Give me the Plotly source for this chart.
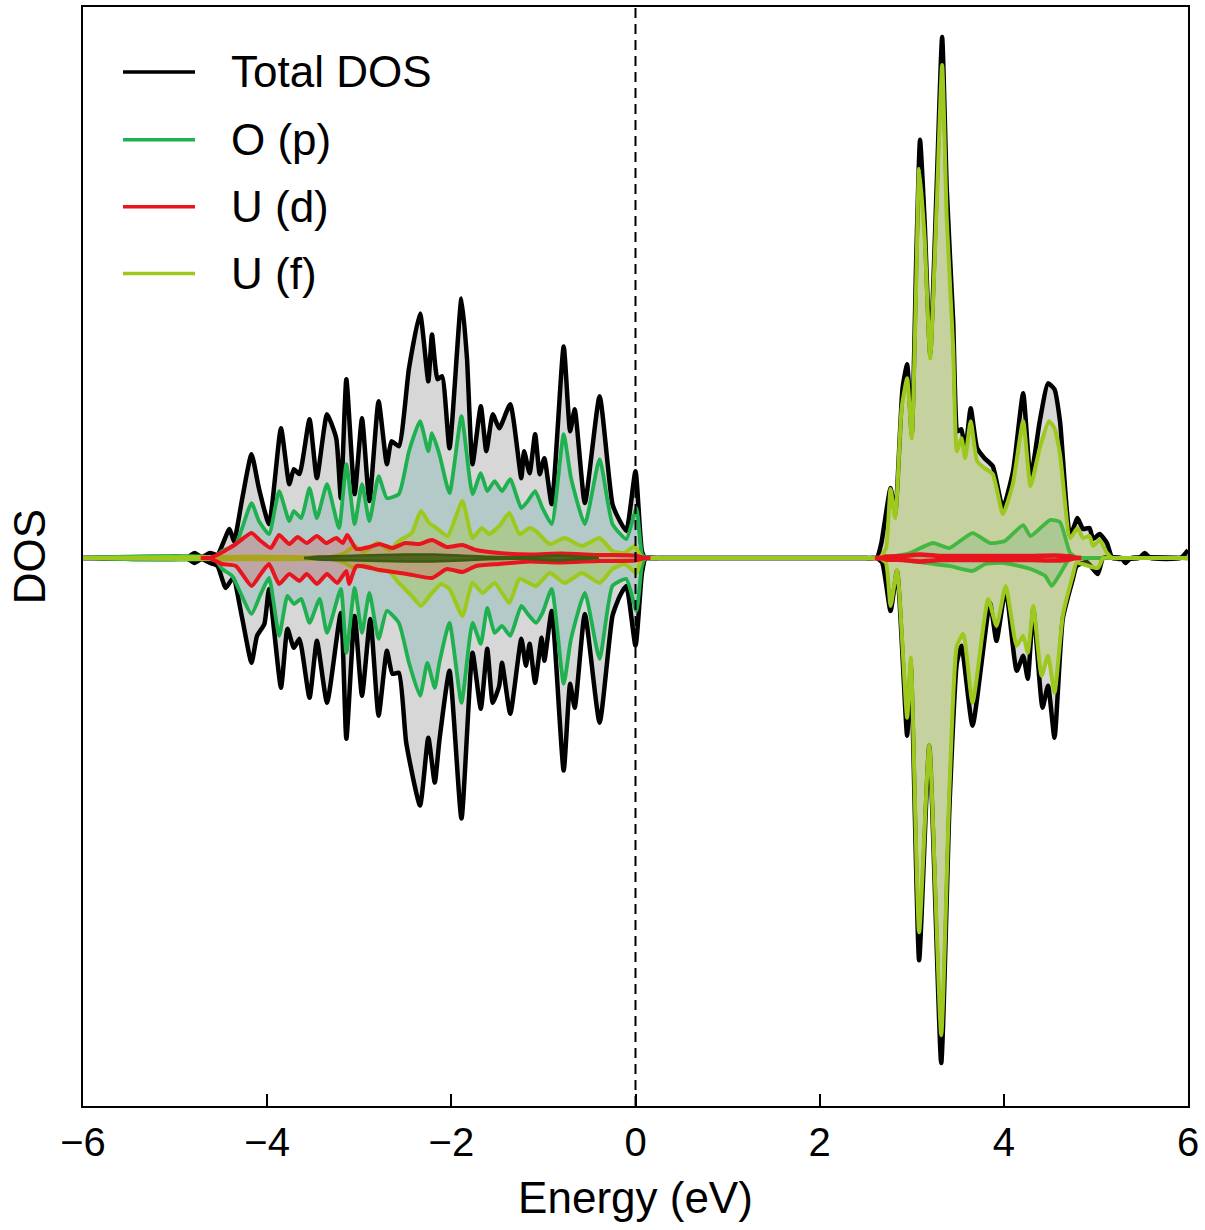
import plotly.graph_objects as go

# ---------------- data (energy in eV, DOS in arbitrary units) ----------------
E_TOT_UP = [-6.0, -4.88, -4.79, -4.71, -4.62, -4.54, -4.41, -4.36, -4.27, -4.17,
            -4.09, -3.98, -3.85, -3.76, -3.71, -3.65, -3.54, -3.46, -3.35, -3.25,
            -3.20, -3.14, -3.05, -2.97, -2.89, -2.79, -2.70, -2.65, -2.57, -2.46,
            -2.34, -2.25, -2.21, -2.15, -2.10, -2.02, -1.89, -1.83, -1.77, -1.68,
            -1.62, -1.55, -1.48, -1.36, -1.24, -1.21, -1.15, -1.09, -1.04, -0.99,
            -0.91, -0.78, -0.71, -0.66, -0.55, -0.39, -0.25, -0.17, -0.10, 0.0,
            0.07, 0.11, 0.25,
            2.50, 2.62, 2.67, 2.77, 2.82, 2.90, 2.95, 3.00, 3.05, 3.09, 3.14,
            3.20, 3.27, 3.33, 3.38, 3.45, 3.50, 3.54, 3.58, 3.64, 3.71,
            3.79, 3.88, 3.99, 4.10, 4.21, 4.29, 4.39, 4.48, 4.55, 4.61,
            4.72, 4.80, 4.86, 4.93, 4.97, 5.04, 5.12, 5.18, 5.47, 5.53,
            5.59, 5.92, 6.0]
TOT_UP = [0, 0, 0.05, 0.01, 0.05, 0.03, 0.29, 0.17, 0.60, 1.04,
          0.70, 0.34, 1.30, 0.74, 0.89, 0.84, 1.39, 0.80, 1.44, 1.20,
          0.60, 1.79, 0.64, 1.40, 0.57, 1.57, 0.94, 1.17, 1.12, 1.90,
          2.45, 1.77, 2.24, 1.79, 1.82, 1.10, 2.60, 2.00, 0.94, 1.52,
          1.07, 1.44, 1.30, 1.54, 0.80, 1.07, 0.85, 1.24, 0.84, 1.00,
          0.54, 2.12, 1.27, 1.49, 0.55, 1.62, 0.54, 0.37, 0.27, 0.87,
          0.07, 0, 0,
          0, 0, 0.15, 0.70, 0.44, 1.70, 1.94, 1.24, 3.04, 4.19, 3.37,
          2.04, 3.70, 5.22, 3.70, 2.37, 1.27, 1.29, 1.07, 1.50, 1.10,
          1.00, 0.92, 0.50, 0.87, 1.65, 0.80, 1.37, 1.75, 1.69, 1.37,
          0.22, 0.40, 0.29, 0.30, 0.19, 0.24, 0.15, 0, 0, 0.05,
          0, 0, 0.08]

E_TOT_DN = [-6.0, -4.88, -4.79, -4.71, -4.62, -4.54, -4.45, -4.37, -4.27, -4.17,
            -4.11, -4.03, -3.98, -3.85, -3.78, -3.71, -3.65, -3.54, -3.46, -3.35,
            -3.20, -3.14, -3.05, -2.97, -2.88, -2.79, -2.70, -2.64, -2.57, -2.49,
            -2.34, -2.25, -2.18, -2.13, -2.02, -1.89, -1.77, -1.68, -1.61, -1.55,
            -1.48, -1.45, -1.36, -1.24, -1.19, -1.15, -1.09, -1.02, -0.99, -0.91,
            -0.78, -0.71, -0.66, -0.55, -0.39, -0.25, -0.17, -0.10, 0.0, 0.07,
            0.11, 0.25,
            2.50, 2.62, 2.68, 2.77, 2.84, 2.95, 2.99, 3.08, 3.19, 3.32, 3.41,
            3.49, 3.54, 3.66, 3.85, 3.92, 4.02, 4.14, 4.21, 4.26, 4.32,
            4.42, 4.48, 4.55, 4.64, 4.75, 4.79, 4.90, 5.02, 5.08, 5.28,
            5.32, 5.38, 6.0]
TOT_DN = [0, 0, -0.05, -0.01, -0.05, -0.08, -0.30, -0.20, -0.61, -1.05,
          -0.78, -0.66, -0.31, -1.30, -0.71, -0.90, -0.81, -1.40, -0.83, -1.45,
          -0.55, -1.81, -0.58, -1.38, -0.61, -1.58, -0.93, -1.16, -1.15, -1.85,
          -2.48, -1.80, -2.25, -1.83, -1.13, -2.61, -0.95, -1.51, -0.91, -1.45,
          -1.28, -1.05, -1.56, -0.81, -1.08, -0.86, -1.25, -0.80, -1.03, -0.53,
          -2.13, -1.26, -1.50, -0.56, -1.65, -0.58, -0.38, -0.28, -0.88, -0.15,
          0, 0,
          0, 0, -0.05, -0.53, -0.13, -1.78, -1.08, -4.03, -1.88, -5.06, -2.48,
          -1.05, -0.88, -1.68, -0.45, -0.83, -0.31, -1.13, -0.98, -1.21, -0.51,
          -1.50, -1.28, -1.80, -0.61, -0.21, -0.08, -0.04, -0.16, 0, 0,
          -0.05, 0, 0]

E_OP_UP = [-6.0, -4.58, -4.49, -4.34, -4.17, -4.09, -3.98, -3.87, -3.76, -3.71,
           -3.63, -3.54, -3.46, -3.35, -3.22, -3.14, -3.05, -2.97, -2.89, -2.79,
           -2.70, -2.57, -2.46, -2.34, -2.25, -2.21, -2.13, -2.02, -1.89, -1.77,
           -1.68, -1.61, -1.53, -1.45, -1.36, -1.24, -1.17, -1.09, -1.01, -0.91,
           -0.78, -0.70, -0.55, -0.39, -0.25, -0.10, 0.01, 0.07, 0.11, 0.25,
           2.55, 2.70, 2.82, 2.98, 3.23, 3.41, 3.66, 3.85, 4.01, 4.21, 4.29,
           4.50, 4.61, 4.72, 4.80, 4.95, 6.0]
OP_UP = [0, 0, 0.07, 0.14, 0.55, 0.37, 0.24, 0.67, 0.37, 0.47,
         0.40, 0.70, 0.40, 0.74, 0.30, 0.94, 0.34, 0.74, 0.37, 0.82,
         0.60, 0.64, 1.07, 1.37, 1.07, 1.25, 1.04, 0.65, 1.42, 0.64,
         0.85, 0.67, 0.77, 0.67, 0.79, 0.50, 0.57, 0.67, 0.50, 0.34,
         1.24, 0.80, 0.34, 0.99, 0.34, 0.19, 0.50, 0.04, 0, 0,
         0, 0, 0.02, 0.05, 0.15, 0.10, 0.25, 0.15, 0.17, 0.33, 0.22,
         0.38, 0.36, 0.05, 0, 0, 0]

E_OP_DN = [-6.0, -4.58, -4.49, -4.38, -4.17, -4.07, -3.98, -3.87, -3.78, -3.71,
           -3.63, -3.54, -3.43, -3.35, -3.20, -3.14, -3.05, -2.97, -2.89, -2.79,
           -2.70, -2.57, -2.46, -2.34, -2.26, -2.18, -2.13, -2.02, -1.89, -1.77,
           -1.68, -1.61, -1.53, -1.45, -1.36, -1.24, -1.17, -1.08, -1.01, -0.91,
           -0.78, -0.70, -0.55, -0.39, -0.25, -0.10, 0.01, 0.07, 0.11, 0.25,
           2.55, 2.70, 2.98, 3.23, 3.41, 3.66, 3.80, 4.00, 4.29, 4.45, 4.52,
           4.61, 4.72, 4.85, 6.0]
OP_DN = [0, 0, -0.11, -0.18, -0.56, -0.36, -0.20, -0.78, -0.38, -0.46,
         -0.41, -0.65, -0.41, -0.75, -0.31, -0.95, -0.30, -0.75, -0.35, -0.81,
         -0.53, -0.65, -1.05, -1.38, -1.05, -1.30, -1.05, -0.65, -1.45, -0.65,
         -0.86, -0.50, -0.75, -0.68, -0.78, -0.48, -0.56, -0.65, -0.55, -0.31,
         -1.26, -0.81, -0.35, -1.01, -0.28, -0.21, -0.53, -0.08, 0, 0,
         0, 0, -0.03, -0.06, -0.08, -0.13, -0.06, -0.05, -0.11, -0.18, -0.28,
         -0.16, 0, 0, 0]

# U (d): valence-band part and conduction-band part
E_UD_UP_V = [-4.72, -4.63, -4.52, -4.41, -4.34, -4.17, -4.07, -3.96, -3.87, -3.76,
             -3.67, -3.57, -3.46, -3.36, -3.25, -3.18, -3.13, -3.03, -2.89, -2.78,
             -2.64, -2.50, -2.35, -2.21, -2.05, -1.88, -1.73, -1.48, -1.15, -0.80,
             -0.39, 0.0, 0.10, 0.16]
UD_UP_V = [0, 0, 0.04, 0.10, 0.14, 0.25, 0.17, 0.10, 0.23, 0.14,
           0.21, 0.15, 0.22, 0.15, 0.20, 0.15, 0.23, 0.09, 0.11, 0.14,
           0.10, 0.15, 0.14, 0.18, 0.11, 0.13, 0.08, 0.05, 0.035, 0.045,
           0.03, 0.025, 0, 0]
E_UD_DN_V = [-4.72, -4.63, -4.49, -4.34, -4.17, -4.07, -3.98, -3.87, -3.76, -3.65,
             -3.57, -3.46, -3.35, -3.24, -3.14, -3.11, -3.03, -2.78, -2.48, -2.21,
             -2.05, -1.88, -1.73, -1.48, -1.15, -0.83, -0.39, 0.0, 0.10, 0.16]
UD_DN_V = [0, 0, -0.06, -0.08, -0.28, -0.16, -0.06, -0.26, -0.16, -0.23,
           -0.16, -0.26, -0.16, -0.25, -0.13, -0.26, -0.08, -0.12, -0.16, -0.20,
           -0.11, -0.14, -0.08, -0.06, -0.035, -0.045, -0.03, -0.025, 0, 0]
E_UD_UP_C = [2.60, 2.66, 2.72, 2.90, 3.09, 3.30, 3.60, 4.00, 4.30, 4.55, 4.72, 4.78, 4.84]
UD_UP_C = [0, 0, 0.015, 0.02, 0.035, 0.02, 0.02, 0.02, 0.02, 0.025, 0.015, 0, 0]
E_UD_DN_C = [2.60, 2.66, 2.72, 2.90, 3.09, 3.30, 3.60, 4.00, 4.30, 4.55, 4.72, 4.78, 4.84]
UD_DN_C = [0, 0, -0.015, -0.02, -0.035, -0.02, -0.02, -0.02, -0.02, -0.025, -0.015, 0, 0]

E_UF_UP = [-6.0, -3.35, -3.16, -3.05, -2.95, -2.80, -2.67, -2.57, -2.43, -2.33,
           -2.24, -2.16, -2.04, -1.88, -1.77, -1.67, -1.59, -1.48, -1.37, -1.26,
           -1.15, -1.08, -0.93, -0.77, -0.58, -0.39, -0.25, -0.12, -0.01, 0.07, 0.20,
           2.50, 2.65, 2.72, 2.77, 2.82, 2.89, 2.95, 3.00, 3.05, 3.08, 3.14,
           3.20, 3.27, 3.33, 3.38, 3.45, 3.49, 3.54, 3.58, 3.64, 3.71,
           3.79, 3.88, 3.99, 4.10, 4.21, 4.29, 4.39, 4.49, 4.55, 4.61,
           4.72, 4.80, 4.86, 4.93, 4.97, 5.04, 5.12, 5.18, 5.30, 6.0]
UF_UP = [0, 0, 0.05, 0.12, 0.06, 0.15, 0.08, 0.17, 0.25, 0.47,
         0.35, 0.30, 0.22, 0.57, 0.20, 0.30, 0.24, 0.32, 0.45, 0.24,
         0.30, 0.27, 0.14, 0.20, 0.12, 0.20, 0.07, 0.05, 0.12, 0, 0,
         0, 0, 0.10, 0.69, 0.40, 1.50, 1.80, 1.20, 2.80, 3.90, 3.20,
         2.00, 3.50, 4.94, 3.40, 2.10, 1.07, 1.20, 1.00, 1.37, 0.97,
         0.90, 0.84, 0.44, 0.75, 1.37, 0.72, 1.10, 1.37, 1.30, 1.04,
         0.20, 0.30, 0.20, 0.22, 0.12, 0.18, 0.05, 0, 0, 0]

E_UF_DN = [-6.0, -3.35, -3.16, -3.05, -2.95, -2.81, -2.68, -2.57, -2.43, -2.33,
           -2.21, -2.11, -2.02, -1.88, -1.77, -1.66, -1.53, -1.37, -1.26, -1.08,
           -0.93, -0.77, -0.58, -0.39, -0.25, -0.12, 0.01, 0.07, 0.20,
           2.50, 2.65, 2.72, 2.77, 2.84, 2.95, 2.99, 3.08, 3.19, 3.32, 3.41,
           3.49, 3.56, 3.66, 3.83, 3.92, 4.02, 4.14, 4.21, 4.26, 4.32,
           4.41, 4.48, 4.55, 4.64, 4.75, 4.79, 5.02, 5.08, 5.20, 6.0]
UF_DN = [0, 0, -0.05, -0.10, -0.07, -0.12, -0.13, -0.25, -0.38, -0.48,
         -0.35, -0.26, -0.31, -0.58, -0.25, -0.35, -0.25, -0.45, -0.21, -0.28,
         -0.15, -0.25, -0.15, -0.25, -0.11, -0.06, -0.15, 0, 0,
         0, 0, -0.05, -0.48, -0.12, -1.60, -1.00, -3.75, -1.88, -4.78, -2.30,
         -0.88, -0.76, -1.45, -0.41, -0.68, -0.28, -0.88, -0.78, -0.95, -0.48,
         -1.18, -0.98, -1.35, -0.58, -0.17, -0.05, -0.10, 0, 0, 0]

# small dark contribution visible along the axis in the valence band
E_OTHER = [-3.60, -3.45, -3.00, -2.50, -2.20, -1.90, -1.60, -1.20, -0.85, -0.55, -0.40]
OTHER_UP = [0, 0.015, 0.025, 0.035, 0.035, 0.025, 0.012, 0.008, 0.025, 0.01, 0]
OTHER_DN = [0, -0.015, -0.025, -0.035, -0.035, -0.025, -0.012, -0.008, -0.025, -0.01, 0]

LEGEND_NAMES = ["Total DOS", "O (p)", "U (d)", "U (f)"]
X_TICKS = [-6, -4, -2, 0, 2, 4, 6]

# ---------------- styles ----------------
C_TOT, C_OP, C_UD, C_UF = "#000000", "#1fb050", "#e8141e", "#9dc81e"
F_TOT = "rgba(150,150,150,0.38)"
F_OP = "rgba(40,150,140,0.20)"
F_UD = "rgba(232,20,30,0.20)"
F_UF = "rgba(157,200,30,0.30)"
FONT = "Liberation Sans, Arial, sans-serif"

fig = go.Figure()


def add(x, y, color, fill, width):
    fig.add_trace(go.Scatter(
        x=x, y=y, mode="lines", fill="tozeroy", fillcolor=fill,
        line=dict(color=color, width=width, shape="spline", smoothing=0.5),
        showlegend=False, hoverinfo="skip"))


add(E_TOT_UP, TOT_UP, C_TOT, F_TOT, 4.5)
add(E_TOT_DN, TOT_DN, C_TOT, F_TOT, 4.5)
add(E_OP_UP, OP_UP, C_OP, F_OP, 3.8)
add(E_OP_DN, OP_DN, C_OP, F_OP, 3.8)
add(E_UF_UP, UF_UP, C_UF, F_UF, 4)
add(E_UF_DN, UF_DN, C_UF, F_UF, 4)
add(E_UD_UP_V, UD_UP_V, C_UD, F_UD, 4)
add(E_UD_DN_V, UD_DN_V, C_UD, F_UD, 4)
add(E_UD_UP_C, UD_UP_C, C_UD, F_UD, 4.5)
add(E_UD_DN_C, UD_DN_C, C_UD, F_UD, 4.5)
add(E_OTHER, OTHER_UP, "#3d5a10", "rgba(61,90,16,0.85)", 2.5)
add(E_OTHER, OTHER_DN, "#3d5a10", "rgba(61,90,16,0.85)", 2.5)

# Fermi level
fig.add_shape(type="line", x0=0, x1=0, y0=0, y1=1, xref="x", yref="paper",
              line=dict(color="black", width=2, dash="10px,6px"))

# manual legend (long line samples as in the reference)
W, H = 1205, 1230
L, R, T, B = 83, 17, 5, 124
pw, ph = W - L - R, H - T - B
leg_y = [70, 138, 205, 272]
leg_c = [C_TOT, C_OP, C_UD, C_UF]
for name, py, col in zip(LEGEND_NAMES, leg_y, leg_c):
    yp = (H - B - py) / ph
    fig.add_shape(type="line", xref="paper", yref="paper",
                  x0=(123 - L) / pw, x1=(195 - L) / pw, y0=yp, y1=yp,
                  line=dict(color=col, width=3.5))
    fig.add_annotation(xref="paper", yref="paper", x=(229 - L) / pw, y=yp,
                       text=name, showarrow=False, xanchor="left", yanchor="middle",
                       font=dict(family=FONT, size=44, color="black"))

fig.update_layout(
    width=W, height=H,
    margin=dict(l=L, r=R, t=T, b=B),
    paper_bgcolor="white", plot_bgcolor="white",
    font=dict(family=FONT, size=40, color="black"),
    showlegend=False,
)
fig.update_xaxes(
    range=[-6, 6], tickvals=X_TICKS,
    ticktext=[("−" if v < 0 else "") + str(abs(v)) for v in X_TICKS],
    ticks="inside", ticklen=12, tickwidth=2, tickcolor="black",
    showline=True, linewidth=2, linecolor="black", mirror=True,
    showgrid=False, zeroline=False,
    tickfont=dict(family=FONT, size=40),
    title=dict(text="Energy (eV)", font=dict(family=FONT, size=44), standoff=19),
)
fig.update_yaxes(
    range=[-5.49, 5.52], showticklabels=False, ticks="",
    showline=True, linewidth=2, linecolor="black", mirror=True,
    showgrid=False, zeroline=False,
    title=dict(text="DOS", font=dict(family=FONT, size=44), standoff=22),
)

fig.write_html("out.html")
